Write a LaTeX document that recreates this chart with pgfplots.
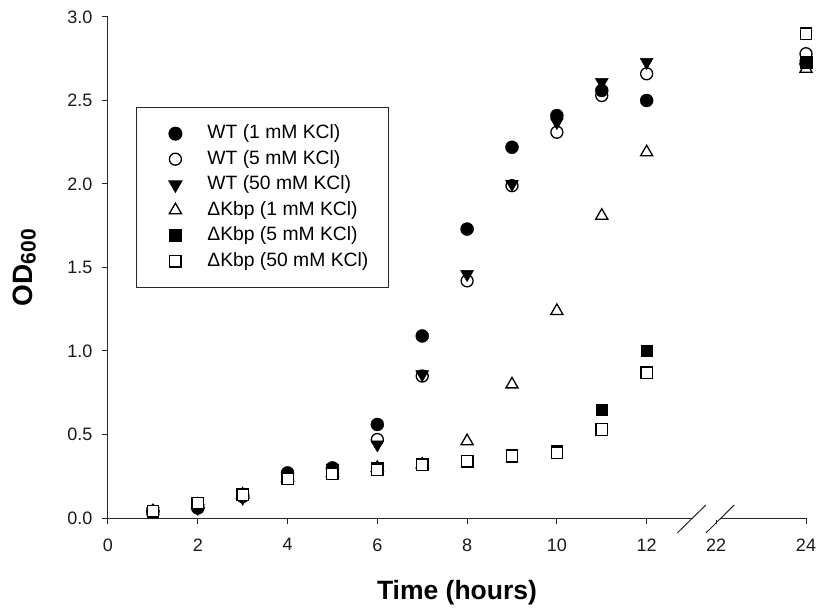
\documentclass[border=0pt]{standalone}
\usepackage{fontspec}
\setmainfont{Liberation Sans}
\usepackage{pgfplots}
\pgfplotsset{compat=1.18}
\usetikzlibrary{calc}

\begin{document}
\begin{tikzpicture}
\begin{axis}[
  name=ax,
  scale only axis,
  width=698pt, height=501pt,
  xmin=0, xmax=15.55, ymin=0, ymax=3,
  axis x line*=bottom, axis y line*=left,
  axis line style={black!85, line width=1pt},
  tick style={black!85, line width=1pt},
  tick align=outside,
  major tick length=6pt,
  xtick={0,2,4,6,8,10,12,13.55,15.55},
  xticklabels={0,2,4,6,8,10,12,22,24},
  ytick={0,0.5,1,1.5,2,2.5,3},
  /pgf/number format/assume math mode=true,
  tick label style={font=\fontsize{18}{20}\selectfont, text=black!90},
  xticklabel style={yshift=-11pt},
  yticklabel style={xshift=-6pt, /pgf/number format/.cd, fixed, fixed zerofill, precision=1},
  clip=false,
  x filter/.expression={x>20 ? x-8.45 : x},
  xlabel={\bfseries Time (hours)},
  ylabel={\fontsize{28}{30}\selectfont\bfseries OD\raisebox{-3pt}{\fontsize{21}{22}\selectfont 600}},
  every axis x label/.style={at={(axis description cs:0.5,-0.1497)}, anchor=center, font=\fontsize{26.5}{30}\selectfont},
  every axis y label/.style={at={(axis description cs:-0.1196,0.5)}, rotate=90, anchor=center},
  legend style={at={(0.04,0.82)}, anchor=north west, draw=black!85, line width=1pt,
    font=\fontsize{19.3}{23}\selectfont, inner xsep=20pt, inner ysep=17pt,
    row sep=7.5pt, column sep=13pt,
    nodes={inner sep=0pt, text height=14pt, text depth=4pt}},
  legend cell align=left,
  legend image code/.code={\path[draw=none, fill=none] (0pt,0pt) -- (38pt,0pt); \draw[#1] plot coordinates {(19pt,0pt)};},
]
% WT (1 mM KCl)
\addplot[only marks, mark=*, mark size=6.5pt, draw=black, fill=black] coordinates {
 (1,0.04)(2,0.06)(3,0.13)(4,0.27)(5,0.30)(6,0.56)(7,1.09)(8,1.73)(9,2.22)(10,2.41)(11,2.56)(12,2.50)(24,2.72)};
\addlegendentry{WT (1 mM KCl)}
% WT (5 mM KCl)
\addplot[only marks, mark=o, mark size=6pt, mark options={draw=black, fill=white, line width=1.3pt}] coordinates {
 (1,0.04)(2,0.07)(3,0.13)(4,0.26)(5,0.29)(6,0.47)(7,0.85)(8,1.42)(9,1.99)(10,2.31)(11,2.53)(12,2.66)(24,2.78)};
\addlegendentry{WT (5 mM KCl)}
% WT (50 mM KCl)
\addplot[only marks, mark=triangle*, mark size=7.5pt, mark options={rotate=180, draw=black, fill=black}] coordinates {
 (1,0.04)(2,0.06)(3,0.12)(4,0.26)(5,0.30)(6,0.44)(7,0.86)(8,1.46)(9,2.00)(10,2.37)(11,2.61)(12,2.73)(24,2.72)};
\addlegendentry{WT (50 mM KCl)}
% dKbp (1 mM KCl)
\addplot[only marks, mark=triangle*, mark size=7pt, mark options={draw=black, fill=white, line width=1.3pt}] coordinates {
 (1,0.04)(2,0.08)(3,0.14)(4,0.24)(5,0.27)(6,0.30)(7,0.32)(8,0.46)(9,0.80)(10,1.24)(11,1.81)(12,2.19)(24,2.69)};
\addlegendentry{ΔKbp (1 mM KCl)}
% dKbp (5 mM KCl)
\addplot[only marks, mark=square*, mark size=5.7pt, draw=black, fill=black] coordinates {
 (1,0.04)(2,0.08)(3,0.14)(4,0.24)(5,0.27)(6,0.30)(7,0.32)(8,0.34)(9,0.38)(10,0.40)(11,0.65)(12,1.00)(24,2.73)};
\addlegendentry{ΔKbp (5 mM KCl)}
% dKbp (50 mM KCl)
\addplot[only marks, mark=square*, mark size=5.7pt, mark options={draw=black, fill=white, line width=1.3pt}] coordinates {
 (1,0.04)(2,0.09)(3,0.14)(4,0.235)(5,0.265)(6,0.29)(7,0.32)(8,0.34)(9,0.37)(10,0.39)(11,0.53)(12,0.87)(24,2.90)};
\addlegendentry{ΔKbp (50 mM KCl)}
% axis break
\draw[white, line width=4pt] (axis cs:13.0,0) -- (axis cs:13.63,0);
\draw[black!85, line width=1pt] (axis cs:12.68,-0.09) -- (axis cs:13.32,0.078);
\draw[black!85, line width=1pt] (axis cs:13.32,-0.09) -- (axis cs:13.95,0.078);
\end{axis}
\pgfresetboundingbox
\path ($(ax.south west)+(-108pt,-92pt)$) rectangle ($(ax.north east)+(13pt,17pt)$);
\end{tikzpicture}
\end{document}
